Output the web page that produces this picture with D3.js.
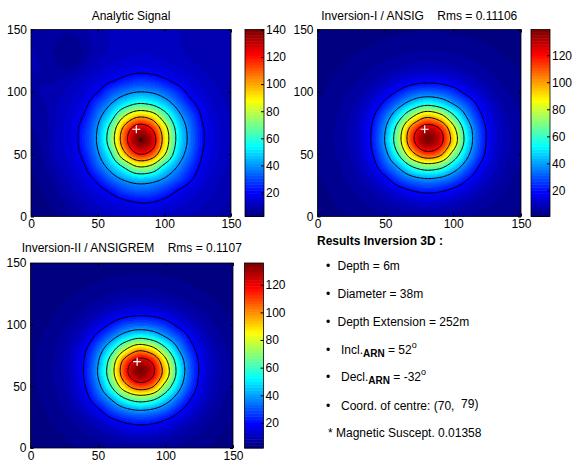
<!DOCTYPE html>
<html>
<head>
<meta charset="utf-8">
<script src="https://cdn.jsdelivr.net/npm/d3@7"></script>
<style>
  body { margin: 0; background: #fff; }
  text { font-family: "Liberation Sans", Arial, sans-serif; }
</style>
</head>
<body>
<div id="chart"></div>
<script>
// grid nodes (data units), rows listed from top (y=150) to bottom (y=0)
const gridX = [0, 10, 20, 30, 40, 50, 60, 70, 80, 90, 100, 110, 120, 130, 140, 150];
const gridY = [150, 140, 130, 120, 110, 100, 90, 80, 70, 60, 50, 40, 30, 20, 10, 0];

const analyticSignal = [
  [8, 8, 7.5, 7, 8.5, 10, 11, 11.5, 11.5, 11.5, 11, 11, 10.5, 10.5, 10, 10],
  [8.5, 8, 6.5, 5.5, 7.5, 10, 11, 11.5, 12, 12, 11.5, 11, 10.5, 10, 10, 9.5],
  [9, 8, 6, 4.5, 7, 10, 11.5, 12.5, 13, 13, 12, 11.5, 10.5, 10, 9.5, 9],
  [9, 8.5, 7, 6.5, 9.5, 12, 13.8, 15, 15.8, 15.6, 14.5, 13, 11.8, 10.5, 10, 9.5],
  [8.5, 8.5, 8.5, 10, 12.5, 14.8, 18, 22.3, 25.5, 24.5, 21, 16.5, 14, 11.8, 10.5, 10],
  [8.5, 9, 10, 12, 14.6, 19.6, 29.3, 35.8, 39.8, 38.7, 33.5, 25.4, 16.8, 13.5, 11.3, 10],
  [7.5, 8.5, 11, 13.3, 17.4, 28.8, 40.4, 53, 61.5, 59, 48.3, 35.3, 23.2, 15.5, 12.2, 10.3],
  [7, 8, 11.5, 14.4, 21.4, 35.8, 53.5, 81, 98.5, 93.6, 70, 45.8, 30.6, 17.5, 13.1, 10.7],
  [6.5, 8, 11.9, 15.3, 25.1, 40.8, 67, 106, 130, 122, 89, 54, 34.2, 19.6, 13.7, 11],
  [5.5, 7.5, 12, 15.4, 25.8, 41.8, 69.7, 111.3, 138.5, 131.3, 93.2, 55.2, 35, 19.9, 13.8, 11],
  [5, 7, 11.7, 14.8, 23.2, 38.1, 58.8, 95, 119, 113, 82, 49.6, 32.4, 18.5, 13.4, 10.9],
  [4.5, 6.5, 10, 13.5, 19.2, 32, 45.6, 62.5, 80, 76, 55, 39.5, 26.6, 16.4, 12.6, 10.4],
  [4, 5.5, 8.5, 12, 15.8, 22.7, 33.4, 41.8, 47.4, 45.8, 38.8, 30.2, 21, 14.2, 11.6, 9.5],
  [3.5, 4.5, 7, 10, 13, 16.2, 21.3, 28, 31.3, 30.7, 25.9, 19.1, 14.8, 12.5, 10.3, 9],
  [3, 4, 5.5, 8, 10.5, 13, 15, 16.7, 19, 19, 16.4, 14.3, 12.5, 11, 9.5, 8.5],
  [2.5, 3, 4.5, 6.5, 8.5, 10.5, 12, 12.8, 13, 13, 12.5, 11.5, 10.5, 9.5, 8.5, 8]
];

const inversionI = [
  [0.9, 1.4, 1.7, 1.9, 2.2, 2.4, 2.5, 2.7, 2.8, 2.7, 2.6, 2.4, 2.3, 2.0, 1.8, 1.5],
  [1.4, 1.7, 2.1, 2.4, 2.7, 3.2, 3.5, 3.8, 3.9, 3.9, 3.6, 3.3, 2.9, 2.5, 2.2, 1.9],
  [1.7, 2.1, 2.4, 3.0, 3.6, 4.3, 4.9, 5.4, 5.6, 5.5, 5.1, 4.6, 3.9, 3.3, 2.6, 2.2],
  [2.0, 2.4, 3.1, 3.9, 4.9, 5.9, 7.2, 8.4, 9.0, 8.7, 7.6, 6.4, 5.3, 4.3, 3.4, 2.6],
  [2.3, 2.9, 3.8, 5.0, 6.5, 9.1, 12.2, 15.0, 16.5, 15.8, 13.3, 10.2, 7.4, 5.6, 4.2, 3.2],
  [2.5, 3.4, 4.6, 6.3, 9.6, 14.6, 21.5, 28.6, 31.3, 30.1, 25.0, 17.0, 11.5, 7.3, 5.2, 3.9],
  [2.9, 3.9, 5.5, 8.2, 13.6, 23.2, 35.3, 48.5, 56.9, 52.4, 40.4, 28.6, 16.9, 9.9, 6.2, 4.5],
  [3.1, 4.4, 6.2, 10.0, 18.0, 32.7, 53.7, 79.4, 97.5, 89.0, 64.4, 39.5, 22.0, 12.0, 7.2, 5.0],
  [3.3, 4.6, 6.6, 11.0, 20.5, 39.5, 70.0, 110.0, 129.5, 121.0, 86.5, 50.3, 26.5, 13.5, 8.0, 5.3],
  [3.3, 4.7, 6.7, 11.0, 21.0, 41.2, 73.3, 115.0, 137.0, 126.5, 92.0, 52.4, 27.0, 13.5, 8.1, 5.4],
  [3.2, 4.5, 6.3, 10.2, 19.0, 36.0, 61.4, 94.3, 112.4, 105.0, 73.3, 44.7, 24.5, 12.5, 7.6, 5.2],
  [3.0, 4.1, 5.7, 9.0, 15.4, 28.0, 42.0, 60.3, 70.0, 65.6, 49.4, 32.7, 18.5, 10.8, 6.7, 4.7],
  [2.7, 3.6, 5.0, 7.1, 11.0, 17.5, 27.5, 35.0, 39.0, 37.0, 30.5, 21.0, 13.3, 8.4, 5.6, 4.1],
  [2.4, 3.1, 4.1, 5.5, 7.5, 10.8, 15.2, 19.3, 21.5, 20.4, 16.9, 12.6, 8.8, 6.2, 4.6, 3.5],
  [2.1, 2.6, 3.4, 4.3, 5.5, 7.0, 8.8, 10.4, 11.5, 10.8, 9.6, 7.6, 6.0, 4.8, 3.7, 2.9],
  [1.8, 2.2, 2.7, 3.4, 4.1, 4.9, 5.6, 6.2, 6.5, 6.4, 5.9, 5.2, 4.4, 3.6, 2.9, 2.4]
];

const inversionII = [
  [1.9, 2.0, 2.2, 2.4, 2.6, 2.8, 2.9, 3.0, 3.1, 3.0, 2.9, 2.8, 2.6, 2.4, 2.2, 2.0],
  [2.0, 2.2, 2.5, 2.8, 3.1, 3.5, 3.8, 4.1, 4.2, 4.2, 3.9, 3.6, 3.2, 2.8, 2.5, 2.2],
  [2.2, 2.5, 2.8, 3.3, 3.9, 4.6, 5.2, 5.7, 5.9, 5.8, 5.4, 4.9, 4.2, 3.6, 2.9, 2.5],
  [2.4, 2.8, 3.4, 4.2, 5.2, 6.2, 7.5, 8.7, 9.3, 9.0, 7.9, 6.7, 5.6, 4.6, 3.7, 2.9],
  [2.6, 3.2, 4.1, 5.3, 6.8, 9.4, 12.5, 15.3, 16.8, 16.1, 13.6, 10.5, 7.7, 5.9, 4.5, 3.5],
  [2.8, 3.7, 4.9, 6.6, 9.9, 14.8, 21.6, 28.5, 31.2, 30.0, 25.0, 17.2, 11.7, 7.6, 5.5, 4.2],
  [3.2, 4.2, 5.8, 8.5, 13.8, 23.2, 35.0, 48.0, 56.2, 51.8, 40.0, 28.4, 16.9, 10.1, 6.5, 4.8],
  [3.4, 4.7, 6.5, 10.4, 18.4, 32.5, 53.0, 78.2, 95.6, 87.4, 63.6, 39.1, 22.2, 12.4, 7.6, 5.3],
  [3.6, 4.9, 7.0, 11.5, 20.6, 39.0, 68.9, 107.5, 126.5, 118.3, 85.2, 49.8, 26.6, 13.9, 8.5, 5.6],
  [3.6, 5.0, 7.1, 11.3, 21.0, 40.6, 72.0, 112.4, 133.8, 123.6, 90.4, 51.9, 27.2, 13.8, 8.6, 5.7],
  [3.5, 4.8, 6.6, 10.4, 19.2, 35.6, 60.5, 92.4, 109.8, 102.6, 72.1, 44.2, 24.7, 12.8, 8.0, 5.5],
  [3.3, 4.4, 6.0, 9.3, 15.7, 27.8, 41.5, 59.3, 68.8, 64.5, 48.7, 32.3, 18.7, 11.2, 7.0, 5.0],
  [3.0, 3.9, 5.3, 7.4, 11.3, 17.6, 27.3, 34.7, 38.6, 36.6, 30.2, 20.9, 13.4, 8.7, 5.9, 4.4],
  [2.7, 3.4, 4.4, 5.8, 7.8, 11.1, 15.4, 19.5, 21.6, 20.6, 17.1, 12.9, 9.1, 6.5, 4.9, 3.8],
  [2.4, 2.9, 3.7, 4.6, 5.8, 7.3, 9.1, 10.7, 11.8, 11.1, 9.9, 7.9, 6.3, 5.1, 4.0, 3.2],
  [2.1, 2.5, 3.0, 3.7, 4.4, 5.2, 5.9, 6.5, 6.8, 6.7, 6.2, 5.5, 4.7, 3.9, 3.2, 2.7]
];

const colorLimits = [[2.3, 140.3], [0.7, 139], [1.9, 135.7]];
const titles = [
  'Analytic Signal',
  'Inversion-I / ANSIG    Rms = 0.11106',
  'Inversion-II / ANSIGREM    Rms = 0.1107'
];
const axisTicks = [0, 50, 100, 150];
const colorbarTicks = [
  [20, 40, 60, 80, 100, 120, 140],
  [20, 40, 60, 80, 100, 120],
  [20, 40, 60, 80, 100, 120]
];
const contourLevels = [20, 40, 60, 80, 100, 120, 140];
const sourceCentre = [79, 70];

const resultsTitle = 'Results Inversion 3D :';
const depth = 6, diameter = 38, depthExtension = 252;
const inclination = 52, declination = -32;
const centre = [70, 79];
const susceptibility = '0.01358';

const W = 572, H = 466;
const FONT = '"Liberation Sans", Arial, sans-serif';

const svg = d3.select('#chart').append('svg')
  .attr('width', W).attr('height', H)
  .style('display', 'block');

svg.append('rect').attr('width', W).attr('height', H).attr('fill', '#fff');

// layout of the three panels (pixels)
const panels = [
  { grid: analyticSignal, x0: 31, x1: 231, y0: 29.5, y1: 216.5, cb0: 245, cb1: 264, titleY: 20 },
  { grid: inversionI, x0: 317.5, x1: 521, y0: 29.5, y1: 216.5, cb0: 531, cb1: 550, titleY: 20 },
  { grid: inversionII, x0: 30.5, x1: 233, y0: 263, y1: 448, cb0: 244.5, cb1: 263.5, titleY: 252 }
];

// MATLAB jet colormap
function jet(t) {
  const c = v => Math.max(0, Math.min(1, v));
  const r = c(Math.min(4 * t - 1.5, -4 * t + 4.5));
  const g = c(Math.min(4 * t - 0.5, -4 * t + 3.5));
  const b = c(Math.min(4 * t + 0.5, -4 * t + 2.5));
  return d3.rgb(Math.round(r * 255), Math.round(g * 255), Math.round(b * 255)).formatHex();
}
const palette = d3.range(64).map(k => jet(k / 63));

// smooth shading between grid nodes (catmull-rom)
function cubic(p0, p1, p2, p3, t) {
  return p1 + 0.5 * t * (p2 - p0 + t * (2 * p0 - 5 * p1 + 4 * p2 - p3 + t * (3 * (p1 - p2) + p3 - p0)));
}
function sampleGrid(grid, x, y) {
  const step = gridX[1] - gridX[0];
  const n = gridX.length, m = gridY.length;
  const fx = (x - gridX[0]) / step;
  const fy = (gridY[0] - y) / step;
  let i = Math.floor(fx), j = Math.floor(fy);
  i = Math.max(0, Math.min(n - 2, i));
  j = Math.max(0, Math.min(m - 2, j));
  const tx = fx - i, ty = fy - j;
  const ci = k => Math.max(0, Math.min(n - 1, k));
  const cj = k => Math.max(0, Math.min(m - 1, k));
  const rows = [-1, 0, 1, 2].map(d => {
    const row = grid[cj(j + d)];
    return cubic(row[ci(i - 1)], row[ci(i)], row[ci(i + 1)], row[ci(i + 2)], tx);
  });
  return cubic(rows[0], rows[1], rows[2], rows[3], ty);
}

panels.forEach((p, idx) => {
  const x = d3.scaleLinear().domain([0, 150]).range([p.x0, p.x1]);
  const y = d3.scaleLinear().domain([0, 150]).range([p.y1, p.y0]);
  const color = d3.scaleQuantize().domain(colorLimits[idx]).range(palette);

  const g = svg.append('g');
  const clipId = 'clip' + idx;
  svg.append('clipPath').attr('id', clipId)
    .append('rect').attr('x', p.x0).attr('y', p.y0)
    .attr('width', p.x1 - p.x0).attr('height', p.y1 - p.y0);

  // shaded field
  const cw = Math.round(p.x1 - p.x0), ch = Math.round(p.y1 - p.y0);
  const canvas = document.createElement('canvas');
  canvas.width = cw; canvas.height = ch;
  const ctx = canvas.getContext('2d');
  const img = ctx.createImageData(cw, ch);
  for (let j = 0; j < ch; j++) {
    const dy = y.invert(p.y0 + (j + 0.5) * (p.y1 - p.y0) / ch);
    for (let i = 0; i < cw; i++) {
      const dx = x.invert(p.x0 + (i + 0.5) * (p.x1 - p.x0) / cw);
      const c = d3.rgb(color(sampleGrid(p.grid, dx, dy)));
      const o = (j * cw + i) * 4;
      img.data[o] = c.r; img.data[o + 1] = c.g; img.data[o + 2] = c.b; img.data[o + 3] = 255;
    }
  }
  ctx.putImageData(img, 0, 0);
  g.append('image')
    .attr('href', canvas.toDataURL())
    .attr('x', p.x0).attr('y', p.y0)
    .attr('width', p.x1 - p.x0).attr('height', p.y1 - p.y0)
    .attr('preserveAspectRatio', 'none');

  // contour lines
  const N = 151;
  const values = new Array(N * N);
  for (let j = 0; j < N; j++) {
    for (let i = 0; i < N; i++) values[j * N + i] = sampleGrid(p.grid, i, j);
  }
  const contours = d3.contours().size([N, N]).thresholds(contourLevels)(values);
  const proj = d3.geoTransform({
    point(px, py) { this.stream.point(x(px - 0.5), y(py - 0.5)); }
  });
  g.append('g').attr('clip-path', `url(#${clipId})`)
    .selectAll('path').data(contours).join('path')
    .attr('d', d3.geoPath(proj))
    .attr('fill', 'none')
    .attr('stroke', '#000')
    .attr('stroke-width', 1);

  // source centre marker
  const [mx, my] = [x(sourceCentre[0]), y(sourceCentre[1])];
  g.append('path')
    .attr('d', `M${mx - 4},${my}H${mx + 4}M${mx},${my - 4}V${my + 4}`)
    .attr('stroke', '#fff').attr('stroke-width', 1.2);

  // axes
  const styleAxis = sel => sel.attr('font-family', FONT).attr('font-size', 12)
    .call(s => s.select('.domain').remove())
    .call(s => s.selectAll('text').attr('fill', '#000'));
  g.append('g').attr('transform', `translate(0,${p.y1})`)
    .call(d3.axisBottom(x).tickValues(axisTicks).tickSize(-3).tickPadding(3)).call(styleAxis);
  g.append('g').attr('transform', `translate(${p.x0},0)`)
    .call(d3.axisLeft(y).tickValues(axisTicks).tickSize(-3).tickPadding(4)).call(styleAxis);
  g.append('g').attr('transform', `translate(0,${p.y0})`)
    .call(d3.axisTop(x).tickValues(axisTicks).tickSize(-3).tickFormat('')).call(styleAxis);
  g.append('g').attr('transform', `translate(${p.x1},0)`)
    .call(d3.axisRight(y).tickValues(axisTicks).tickSize(-3).tickFormat('')).call(styleAxis);
  g.append('rect')
    .attr('x', p.x0).attr('y', p.y0)
    .attr('width', p.x1 - p.x0).attr('height', p.y1 - p.y0)
    .attr('fill', 'none').attr('stroke', '#000').attr('stroke-width', 0.8);

  // title
  g.append('text')
    .attr('x', (p.x0 + p.x1) / 2).attr('y', p.titleY)
    .attr('text-anchor', 'middle')
    .attr('font-size', 12)
    .style('white-space', 'pre')
    .text(titles[idx]);

  // colorbar
  const cb = d3.scaleLinear().domain(colorLimits[idx]).range([p.y1, p.y0]);
  g.append('g').selectAll('rect').data(palette).join('rect')
    .attr('x', p.cb0)
    .attr('width', p.cb1 - p.cb0)
    .attr('y', d => cb(color.invertExtent(d)[1]))
    .attr('height', d => cb(color.invertExtent(d)[0]) - cb(color.invertExtent(d)[1]) + 0.5)
    .attr('fill', d => d);
  g.append('g').attr('transform', `translate(${p.cb1},0)`)
    .call(d3.axisRight(cb).tickValues(colorbarTicks[idx]).tickSize(-3).tickPadding(2)).call(styleAxis);
  g.append('rect')
    .attr('x', p.cb0).attr('y', p.y0)
    .attr('width', p.cb1 - p.cb0).attr('height', p.y1 - p.y0)
    .attr('fill', 'none').attr('stroke', '#000').attr('stroke-width', 0.8);
});

// results text block
const txt = svg.append('g').attr('font-size', 12).attr('fill', '#000');
txt.append('text').attr('x', 317).attr('y', 245)
  .attr('font-weight', 'bold').text(resultsTitle);

const bulletX = 326;
function bullet(yb) {
  txt.append('text').attr('x', bulletX).attr('y', yb).text('\u2022');
}
[[`Depth = ${depth}m`, 269.5], [`Diameter = ${diameter}m`, 297.5],
 [`Depth Extension = ${depthExtension}m`, 326]].forEach(([s, yb]) => {
  bullet(yb);
  txt.append('text').attr('x', 337.5).attr('y', yb).text(s);
});

[['Incl', inclination, 353.5], ['Decl', declination, 380.5]].forEach(([label, val, yb]) => {
  bullet(yb);
  const t = txt.append('text').attr('x', 341).attr('y', yb);
  t.append('tspan').text(label + '.');
  t.append('tspan').attr('dy', 3).attr('font-size', 10).attr('font-weight', 'bold').text('ARN');
  t.append('tspan').attr('dy', -3).text(` = ${val}`);
  t.append('tspan').attr('dy', -6).attr('font-size', 9).text('o');
});

bullet(409.5);
const ct = txt.append('text').attr('x', 341).attr('y', 409.5).style('white-space', 'pre');
ct.append('tspan').text(`Coord. of centre: (${centre[0]},  `);
ct.append('tspan').attr('dy', -2).text(`${centre[1]})`);

txt.append('text').attr('x', 328).attr('y', 437)
  .text(`* Magnetic Suscept. ${susceptibility}`);
</script>
</body>
</html>
